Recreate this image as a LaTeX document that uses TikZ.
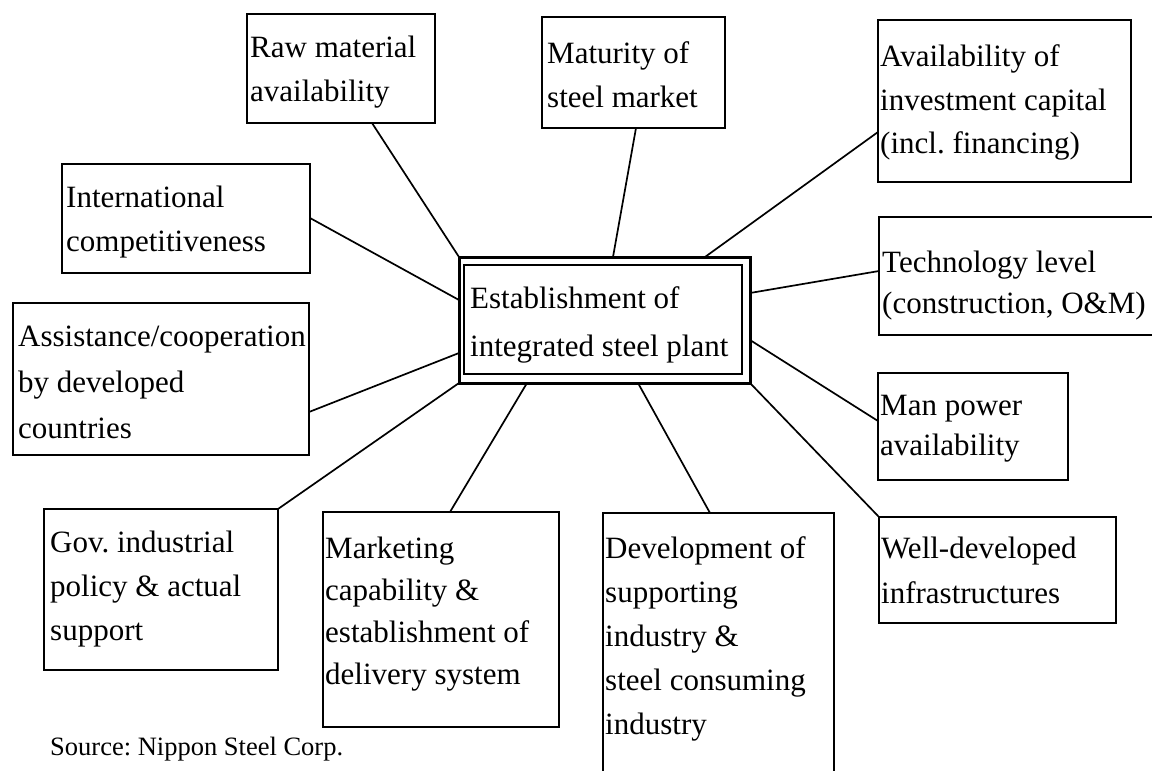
\documentclass[tikz,border=0pt]{standalone}
\usepackage{fontspec}
\setmainfont{Liberation Serif}
\usetikzlibrary{calc}
\frenchspacing
\newcommand\lines[1]{\begin{tabular}[t]{@{}l@{}}#1\end{tabular}}
\begin{document}
\begin{tikzpicture}[x=1pt,y=-1pt,
  factor/.style={draw, line width=1.9pt, rectangle, inner sep=0pt, outer sep=0pt, anchor=north west},
  words/.style={anchor=base west, inner sep=0pt, font=\fontsize{31}{#1}\selectfont},
  words/.default=44,
  link/.style={line width=1.7pt}]
\useasboundingbox (0,0) rectangle (1152,771);
\clip (0,0) rectangle (1152,771);

% central box with its inner frame
\node[draw, line width=3pt, rectangle, inner sep=0pt, outer sep=0pt, anchor=north west,
      minimum width=291pt, minimum height=126pt] (ctr) at (459,257) {};
\draw[line width=1.7pt] ([shift={(5,8)}]ctr.north west) rectangle ([shift={(-8,-9)}]ctr.south east);
\node[words=48] at (470,308) {\lines{Establishment of\\integrated steel plant}};

% surrounding factors
\node[factor, minimum width=188pt, minimum height=109pt] (raw) at (247,14) {};
\node[words] at (250,57) {\lines{Raw material\\availability}};

\node[factor, minimum width=183pt, minimum height=111pt] (mat) at (542,17) {};
\node[words] at (547,63) {\lines{Maturity of\\steel market}};

\node[factor, minimum width=253pt, minimum height=162pt] (cap) at (878,20) {};
\node[words] at (880,66) {\lines{Availability of\\investment capital\\(incl. financing)}};

\node[factor, minimum width=248pt, minimum height=109pt] (intl) at (62,164) {};
\node[words] at (66,207) {\lines{International\\competitiveness}};

\node[factor, minimum width=296pt, minimum height=152pt] (assist) at (13,303) {};
\node[words=46] at (18,346) {\lines{Assistance/cooperation\\by developed\\countries}};

\node[factor, minimum width=290pt, minimum height=118pt] (tech) at (879,217) {};
\node[words=41] at (882,272) {\lines{Technology level\\(construction, O\&M)}};

\node[factor, minimum width=190pt, minimum height=107pt] (man) at (878,373) {};
\node[words=40] at (880,415) {\lines{Man power\\availability}};

\node[factor, minimum width=237pt, minimum height=106pt] (well) at (879,517) {};
\node[words=45] at (881,558) {\lines{Well-developed\\infrastructures}};

\node[factor, minimum width=234pt, minimum height=161pt] (gov) at (44,509) {};
\node[words] at (50,552) {\lines{Gov. industrial\\policy \& actual\\support}};

\node[factor, minimum width=236pt, minimum height=215pt] (mkt) at (323,512) {};
\node[words=42] at (325,558) {\lines{Marketing\\capability \&\\establishment of\\delivery system}};

\node[factor, minimum width=231pt, minimum height=280pt] (dev) at (603,513) {};
\node[words] at (605,558) {\lines{Development of\\supporting\\industry \&\\steel consuming\\industry}};

\node[anchor=base west, inner sep=0pt, font=\fontsize{26.5}{32}\selectfont] (src) at (50,755) {Source: Nippon Steel Corp.};

% connectors to the central box (shifts are in pt, positive = up/right)
\draw[link] ([xshift=125]raw.south west) -- (ctr.north west);
\draw[link] ([xshift=94]mat.south west) -- ([xshift=154]ctr.north west);
\draw[link] ([yshift=-112]cap.north west) -- ([xshift=246]ctr.north west);
\draw[link] ([yshift=-54]intl.north east) -- ([yshift=-43]ctr.north west);
\draw[link] ([yshift=-109]assist.north east) -- ([yshift=-96]ctr.north west);
\draw[link] ([yshift=-54]tech.north west) -- ([yshift=-36]ctr.north east);
\draw[link] ([yshift=-48]man.north west) -- ([yshift=-83]ctr.north east);
\draw[link] (gov.north east) -- (ctr.south west);
\draw[link] ([xshift=127]mkt.north west) -- ([xshift=68]ctr.south west);
\draw[link] ([xshift=107]dev.north west) -- ([xshift=179]ctr.south west);
\draw[link] (well.north west) -- (ctr.south east);
\end{tikzpicture}
\end{document}
